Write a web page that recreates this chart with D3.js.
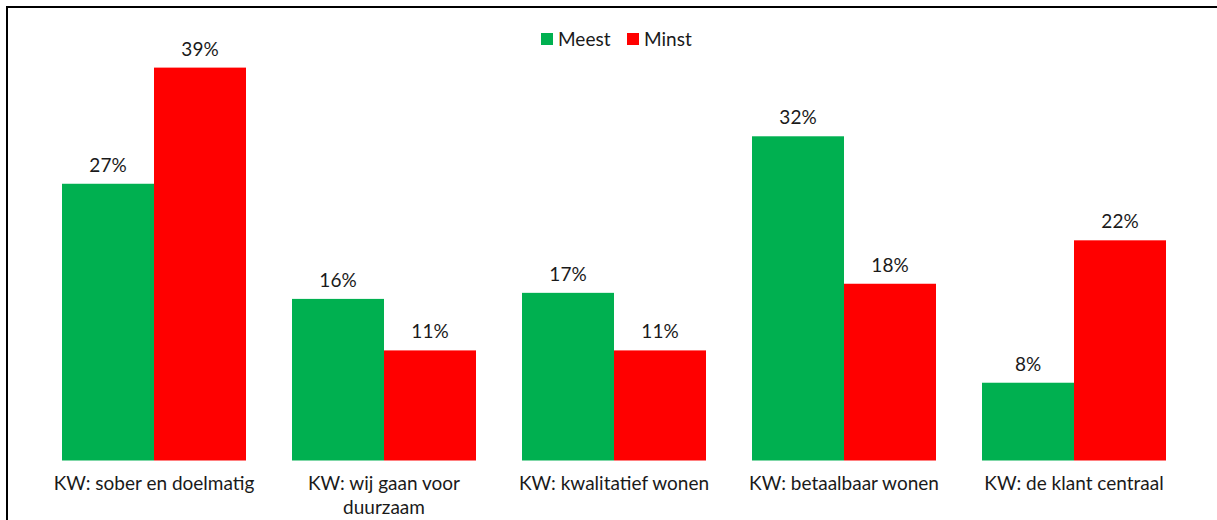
<!DOCTYPE html>
<html>
<head>
<meta charset="utf-8">
<script src="https://cdn.jsdelivr.net/npm/d3@7"></script>
<style>
	body { margin: 0; background: #fff; }
	svg text { font-family: Lato, "Open Sans", sans-serif; fill: #1a1a1a; }
</style>
</head>
<body>
<svg id="canvas"></svg>
<script>
const WIDTH = 1217,
	HEIGHT = 520,
	FONT_SIZE = 19;

// data (percent)
const categories = [
		'KW: sober en doelmatig',
		'KW: wij gaan voor duurzaam',
		'KW: kwalitatief wonen',
		'KW: betaalbaar wonen',
		'KW: de klant centraal'
	],
	seriesNames = ['Meest', 'Minst'],
	meest = [27.4, 16.0, 16.6, 32.1, 7.7],
	minst = [38.9, 10.9, 10.9, 17.5, 21.8],
	colors = ['#00b050', '#ff0000'];

const svg = d3.select('svg#canvas')
	.attr('width', WIDTH)
	.attr('height', HEIGHT);

// frame (only top and left edges are in view)
svg.append('rect')
	.attr('x', 7)
	.attr('y', 7)
	.attr('width', 1400)
	.attr('height', 700)
	.attr('fill', 'none')
	.attr('stroke', '#000')
	.attr('stroke-width', 2);

const x0 = d3.scaleBand()
		.domain(categories)
		.range([39, 1189])
		.paddingInner(0.2)
		.paddingOuter(0.1),
	x1 = d3.scaleBand()
		.domain(seriesNames)
		.range([0, x0.bandwidth()]),
	y = d3.scaleLinear()
		.domain([0, 40])
		.range([460.5, 56.5]);

const rows = categories.map((c, i) => ({
	category: c,
	values: [
		{ key: 'Meest', value: meest[i], color: colors[0] },
		{ key: 'Minst', value: minst[i], color: colors[1] }
	]
}));

const groups = svg.append('g').selectAll('g')
	.data(rows)
	.join('g')
	.attr('transform', d => `translate(${x0(d.category)},0)`);

groups.selectAll('rect')
	.data(d => d.values)
	.join('rect')
	.attr('x', d => x1(d.key))
	.attr('y', d => y(d.value))
	.attr('width', x1.bandwidth())
	.attr('height', d => y(0) - y(d.value))
	.attr('fill', d => d.color);

groups.selectAll('text.val')
	.data(d => d.values)
	.join('text')
	.classed('val', true)
	.attr('x', d => x1(d.key) + x1.bandwidth() / 2)
	.attr('y', d => y(d.value) - 12)
	.attr('text-anchor', 'middle')
	.attr('font-size', FONT_SIZE)
	.text(d => Math.round(d.value) + '%');

// category labels, wrapped
const xAxis = svg.append('g')
	.attr('transform', `translate(0,${y(0)})`)
	.call(d3.axisBottom(x0).tickSize(0).tickPadding(0));
xAxis.select('.domain').remove();
xAxis.selectAll('text')
	.attr('font-size', FONT_SIZE)
	.attr('fill', '#1a1a1a')
	.attr('dy', 0)
	.attr('y', 29)
	.call(wrap, 215);

function wrap(texts, width) {
	texts.each(function () {
		const text = d3.select(this),
			words = text.text().split(/\s+/),
			xx = text.attr('x') || 0;
		let line = [],
			tspan = text.text(null).append('tspan').attr('x', xx).attr('dy', 0);
		words.forEach(w => {
			line.push(w);
			tspan.text(line.join(' '));
			if (tspan.node().getComputedTextLength() > width && line.length > 1) {
				line.pop();
				tspan.text(line.join(' '));
				line = [w];
				tspan = text.append('tspan').attr('x', xx).attr('dy', 24).text(w);
			}
		});
	});
}

// legend
const legend = svg.append('g')
	.attr('transform', 'translate(541,33)');
const legendItems = legend.selectAll('g')
	.data(seriesNames)
	.join('g')
	.attr('transform', (d, i) => `translate(${i * 86},0)`);
legendItems.append('rect')
	.attr('width', 12)
	.attr('height', 12)
	.attr('fill', (d, i) => colors[i]);
legendItems.append('text')
	.attr('x', 17)
	.attr('y', 13)
	.attr('font-size', FONT_SIZE)
	.text(d => d);
</script>
</body>
</html>
